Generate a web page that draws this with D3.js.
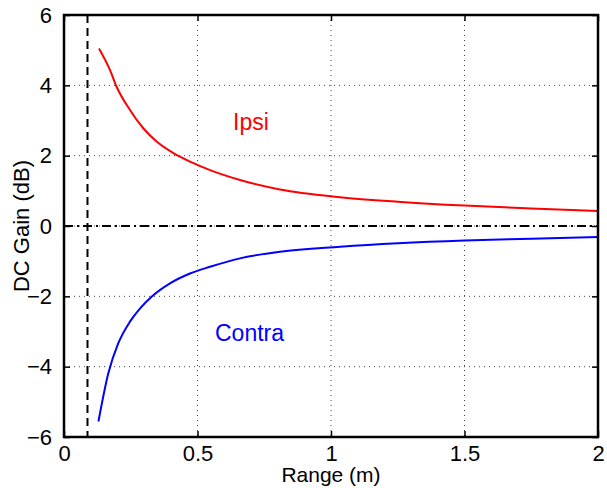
<!DOCTYPE html>
<html lang="en">
<head>
    <meta charset="utf-8">
    <title>DC Gain vs Range</title>
    <script src="https://d3js.org/d3.v7.min.js"></script>
    <style>
        body { margin: 0; background: #fff; }
        text { font-family: "Liberation Sans", Arial, sans-serif; }
    </style>
</head>
<body>
    <svg id="chart" width="607" height="488"></svg>
    <script>
        // values
        const ipsiRange = [0.131, 0.172, 0.197, 0.247, 0.297, 0.347, 0.41, 0.472, 0.547, 0.659, 0.809, 1.034, 1.25, 1.5, 1.75, 2.0];
        const ipsiGain  = [5.05, 4.44, 3.96, 3.30, 2.78, 2.40, 2.07, 1.83, 1.59, 1.31, 1.04, 0.82, 0.69, 0.58, 0.50, 0.43];
        const contraRange = [0.129, 0.166, 0.203, 0.247, 0.285, 0.328, 0.397, 0.472, 0.547, 0.659, 0.809, 1.034, 1.25, 1.5, 1.75, 2.0];
        const contraGain  = [-5.56, -4.19, -3.34, -2.72, -2.34, -2.01, -1.63, -1.35, -1.16, -0.92, -0.73, -0.59, -0.49, -0.41, -0.36, -0.31];
        const xTicks = [0, 0.5, 1, 1.5, 2];
        const yTicks = [-6, -4, -2, 0, 2, 4, 6];
        const minRange = 0.088;

        const svg = d3.select('#chart');
        const plotLeft = 64, plotRight = 598, plotTop = 15, plotBottom = 437;
        const fontSize = 22;

        let x = d3.scaleLinear().domain([0, 2]).range([plotLeft, plotRight]);
        let y = d3.scaleLinear().domain([-6, 6]).range([plotBottom, plotTop]);

        // dotted grid
        let grid = svg.append('g');
        grid.selectAll('line.gx')
            .data(xTicks.filter(t => t > 0 && t < 2))
            .enter().append('line')
            .attr('x1', d => x(d)).attr('x2', d => x(d))
            .attr('y1', plotTop).attr('y2', plotBottom)
            .attr('stroke', '#444').attr('stroke-width', 1)
            .attr('stroke-dasharray', '1,4');
        grid.selectAll('line.gy')
            .data(yTicks.filter(t => t > -6 && t < 6))
            .enter().append('line')
            .attr('x1', plotLeft).attr('x2', plotRight)
            .attr('y1', d => y(d)).attr('y2', d => y(d))
            .attr('stroke', '#444').attr('stroke-width', 1)
            .attr('stroke-dasharray', '1,4');

        // reference lines
        svg.append('line')
            .attr('x1', x(minRange)).attr('x2', x(minRange))
            .attr('y1', plotTop).attr('y2', plotBottom)
            .attr('stroke', 'black').attr('stroke-width', 2)
            .attr('stroke-dasharray', '8,5');
        svg.append('line')
            .attr('x1', plotLeft).attr('x2', plotRight)
            .attr('y1', y(0)).attr('y2', y(0))
            .attr('stroke', 'black').attr('stroke-width', 2)
            .attr('stroke-dasharray', '9,4,2,4');

        let line = d3.line()
            .curve(d3.curveMonotoneX)
            .x(d => x(d[0]))
            .y(d => y(d[1]));

        svg.append('path')
            .datum(d3.zip(ipsiRange, ipsiGain))
            .attr('fill', 'none')
            .attr('stroke', '#ff0000')
            .attr('stroke-width', 2)
            .attr('d', line);

        svg.append('path')
            .datum(d3.zip(contraRange, contraGain))
            .attr('fill', 'none')
            .attr('stroke', '#0000ff')
            .attr('stroke-width', 2)
            .attr('d', line);

        // axes with inward ticks
        svg.append('g')
            .attr('transform', `translate(0,${plotBottom})`)
            .call(d3.axisBottom(x).tickValues(xTicks).tickSizeInner(-6).tickSizeOuter(0)
                .tickPadding(8).tickFormat(d3.format('~g')))
            .call(g => g.select('.domain').remove());
        svg.append('g')
            .attr('transform', `translate(0,${plotTop})`)
            .call(d3.axisTop(x).tickValues(xTicks).tickSizeInner(-6).tickSizeOuter(0).tickFormat(''))
            .call(g => g.select('.domain').remove());
        svg.append('g')
            .attr('transform', `translate(${plotLeft},0)`)
            .call(d3.axisLeft(y).tickValues(yTicks).tickSizeInner(-6).tickSizeOuter(0)
                .tickPadding(12).tickFormat(d => d < 0 ? '\u2212' + Math.abs(d) : d))
            .call(g => g.select('.domain').remove());
        svg.append('g')
            .attr('transform', `translate(${plotRight},0)`)
            .call(d3.axisRight(y).tickValues(yTicks).tickSizeInner(-6).tickSizeOuter(0).tickFormat(''))
            .call(g => g.select('.domain').remove());

        svg.selectAll('.tick line').attr('stroke', 'black').attr('stroke-width', 1.5);
        svg.selectAll('.tick text')
            .attr('font-size', fontSize)
            .attr('font-family', '"Liberation Sans", Arial, sans-serif')
            .attr('fill', 'black');

        // box
        svg.append('rect')
            .attr('x', plotLeft).attr('y', plotTop)
            .attr('width', plotRight - plotLeft).attr('height', plotBottom - plotTop)
            .attr('fill', 'none').attr('stroke', 'black').attr('stroke-width', 2.5);

        // labels
        svg.append('text')
            .attr('x', (plotLeft + plotRight) / 2).attr('y', 482)
            .attr('text-anchor', 'middle')
            .attr('font-size', 21)
            .text('Range (m)');
        svg.append('text')
            .attr('transform', `translate(29,${(plotTop + plotBottom) / 2}) rotate(-90)`)
            .attr('text-anchor', 'middle')
            .attr('font-size', fontSize)
            .text('DC Gain (dB)');

        svg.append('text')
            .attr('x', 233).attr('y', 130)
            .attr('font-size', 23)
            .attr('fill', '#ff0000')
            .text('Ipsi');
        svg.append('text')
            .attr('x', 215).attr('y', 341)
            .attr('font-size', 23)
            .attr('fill', '#0000ff')
            .text('Contra');
    </script>
</body>
</html>
